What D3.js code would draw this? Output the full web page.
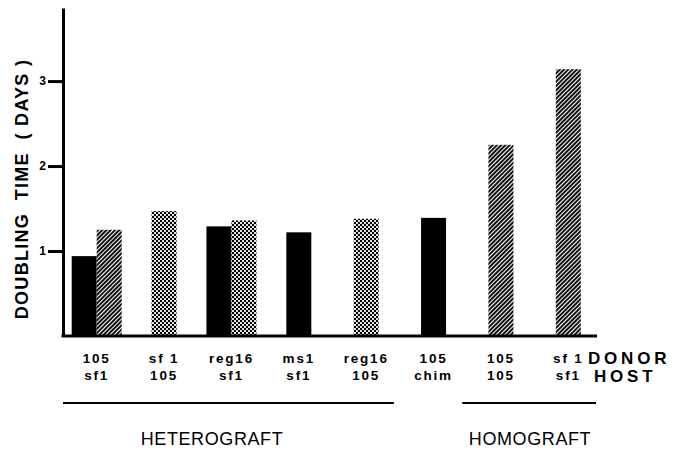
<!DOCTYPE html>
<html>
<head>
<meta charset="utf-8">
<script src="https://cdn.jsdelivr.net/npm/d3@7"></script>
<style>
  html, body { margin: 0; padding: 0; background: #fff; }
  svg { display: block; font-family: "Liberation Sans", Arial, Helvetica, sans-serif; }
  .pre { white-space: pre; }
</style>
</head>
<body>
<svg id="chart" width="673" height="452"></svg>
<script>
// ---- data ----
const donors = ["105", "sf 1", "reg16", "ms1", "reg16", "105", "105", "sf 1"];
const hosts  = ["sf1", "105", "sf1", "sf1", "105", "chim", "105", "sf1"];
// solid (black) bar values; null = no bar
const solidValues   = [0.94, null, 1.29, 1.22, null, 1.39, null, null];
// shaded bar values; null = no bar
const shadedValues  = [1.25, 1.47, 1.36, null, 1.38, null, 2.25, 3.14];
const shadedTexture = ["diag", "check", "check", null, "check", null, "diag", "diag"];
const yTicks = [1, 2, 3];
const groups = [
  { name: "HETEROGRAFT", from: 0, to: 4 },
  { name: "HOMOGRAFT",   from: 6, to: 7 }
];

// ---- layout ----
const svg = d3.select("#chart");
const x0 = 63, x1 = 602, yBase = 336, yTop = 8;
const x = d3.scaleBand().domain(d3.range(donors.length)).range([x0, x1]).padding(0);
const y = d3.scaleLinear().domain([0, 3.86]).range([yBase, yTop]);
const barW = 25;

// patterns
const defs = svg.append("defs");
const pd = defs.append("pattern").attr("id", "diag").attr("patternUnits", "userSpaceOnUse")
  .attr("width", 3).attr("height", 3).attr("patternTransform", "rotate(45)");
pd.append("rect").attr("width", 3).attr("height", 3).attr("fill", "#fff");
pd.append("rect").attr("width", 2).attr("height", 3).attr("fill", "#111");
const pc = defs.append("pattern").attr("id", "check").attr("patternUnits", "userSpaceOnUse")
  .attr("width", 4).attr("height", 4);
pc.append("rect").attr("width", 4).attr("height", 4).attr("fill", "#e4e4e4");
pc.append("rect").attr("width", 2).attr("height", 2).attr("fill", "#000");
pc.append("rect").attr("x", 2).attr("y", 2).attr("width", 2).attr("height", 2).attr("fill", "#000");

// bars
const barData = [];
donors.forEach((d, i) => {
  const c = x(i) + x.bandwidth() / 2;
  const hasS = solidValues[i] != null, hasH = shadedValues[i] != null;
  if (hasS && hasH) {
    barData.push({ x: c - barW, v: solidValues[i], fill: "#000" });
    barData.push({ x: c, v: shadedValues[i], fill: "url(#" + shadedTexture[i] + ")" });
  } else if (hasS) {
    barData.push({ x: c - barW / 2, v: solidValues[i], fill: "#000" });
  } else if (hasH) {
    barData.push({ x: c - barW / 2, v: shadedValues[i], fill: "url(#" + shadedTexture[i] + ")" });
  }
});
svg.append("g").selectAll("rect").data(barData).join("rect")
  .attr("x", d => d.x).attr("width", barW)
  .attr("y", d => y(d.v)).attr("height", d => yBase - y(d.v))
  .attr("fill", d => d.fill);

// y axis
const yAxis = d3.axisLeft(y).tickValues(yTicks).tickSize(15).tickSizeOuter(0).tickFormat(d3.format("d"));
const ga = svg.append("g").attr("transform", `translate(${x0},0)`).call(yAxis);
ga.select(".domain").attr("stroke", "#000").attr("stroke-width", 3);
ga.selectAll(".tick line").attr("stroke", "#000").attr("stroke-width", 3);
ga.selectAll(".tick text").attr("x", -17).attr("font-size", 12).attr("font-weight", "bold").attr("fill", "#000");

// baseline
svg.append("line").attr("x1", x0 - 1.5).attr("x2", 597).attr("y1", yBase).attr("y2", yBase)
  .attr("stroke", "#000").attr("stroke-width", 3);

// y title
svg.append("text").attr("class", "pre")
  .attr("transform", `translate(28,189) rotate(-90)`)
  .attr("text-anchor", "middle")
  .attr("font-size", 18).attr("font-weight", "bold").attr("letter-spacing", 1.3)
  .text("DOUBLING  TIME  ( DAYS )");

// category labels
const lab = svg.append("g").attr("font-size", 13.5).attr("font-weight", "bold").attr("letter-spacing", 1.8)
  .attr("text-anchor", "middle");
lab.selectAll("text.donor").data(donors).join("text").attr("class", "donor")
  .attr("x", (d, i) => x(i) + x.bandwidth() / 2).attr("y", 363).text(d => d);
lab.selectAll("text.host").data(hosts).join("text").attr("class", "host")
  .attr("x", (d, i) => x(i) + x.bandwidth() / 2).attr("y", 380).text(d => d);

svg.append("text").attr("x", 588).attr("y", 364).attr("font-size", 17).attr("font-weight", "bold")
  .attr("letter-spacing", 3.8).text("DONOR");
svg.append("text").attr("x", 594).attr("y", 382).attr("font-size", 17).attr("font-weight", "bold")
  .attr("letter-spacing", 3.8).text("HOST");

// group lines and names
groups.forEach((g, k) => {
  const a = k === 0 ? x0 : x(g.from) - 5;
  const b = x(g.to) + x.bandwidth() - 6;
  svg.append("line").attr("x1", a).attr("x2", b).attr("y1", 403).attr("y2", 403)
    .attr("stroke", "#000").attr("stroke-width", 1.8);
  svg.append("text").attr("x", k === 0 ? 212 : 530).attr("y", 445)
    .attr("text-anchor", "middle").attr("font-size", 18).attr("letter-spacing", 0.6)
    .text(g.name);
});
</script>
</body>
</html>
